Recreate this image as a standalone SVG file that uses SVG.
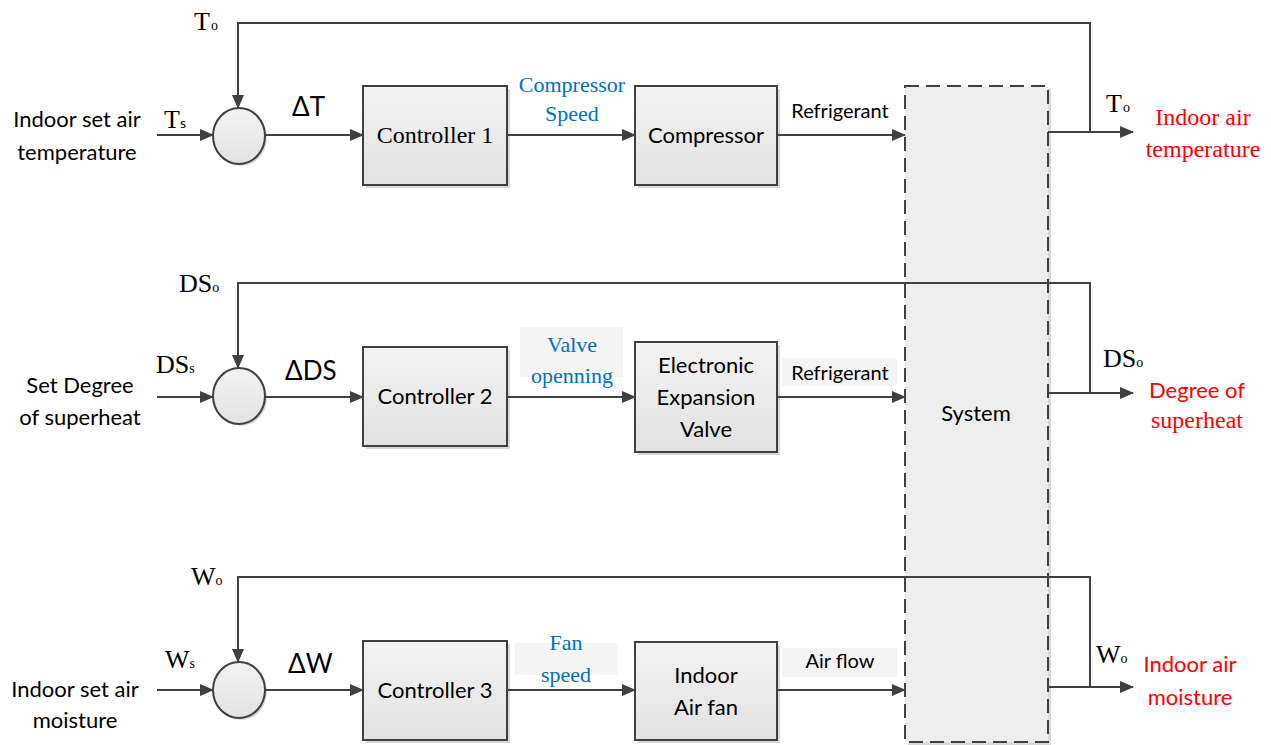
<svg xmlns="http://www.w3.org/2000/svg" width="1271" height="745" viewBox="0 0 1271 745">
<defs>
  <linearGradient id="boxg" x1="0" y1="0" x2="0" y2="1">
    <stop offset="0" stop-color="#f3f3f3"/>
    <stop offset="1" stop-color="#e2e2e2"/>
  </linearGradient>
  <marker id="arr" viewBox="0 0 14 12" refX="13" refY="6" markerWidth="14" markerHeight="12" markerUnits="userSpaceOnUse" orient="auto">
    <path d="M0,0 L14,6 L0,12 Z" fill="#404040"/>
  </marker>
</defs>
<style>
  .box{fill:url(#boxg);stroke:#404040;stroke-width:2}
  .shadow{fill:#d8d8d8}
  .sum{fill:url(#boxg);stroke:#404040;stroke-width:2}
  .ln{fill:none;stroke:#404040;stroke-width:2}
  .ar{fill:none;stroke:#404040;stroke-width:2;marker-end:url(#arr)}
  .sans{font-family:Lato,"Liberation Sans",sans-serif;font-size:22px;fill:#000}
  .serif{font-family:"Liberation Serif","Times New Roman",serif;font-size:24px;fill:#000}
  .sym{font-family:"Liberation Serif","Times New Roman",serif;font-size:26px;fill:#000}
  .delta{font-family:Lato,"Liberation Sans",sans-serif;font-size:26px;fill:#000}
  .lbl{font-family:Lato,"Liberation Sans",sans-serif;font-size:20px;fill:#000}
  .blue{font-family:"Liberation Serif","Times New Roman",serif;font-size:22px;fill:#0070c0}
  .red{fill:#ff0000}
  .sub{font-size:14px}
  .lblbg{fill:#f5f5f5}
</style>
<rect width="1271" height="745" fill="#ffffff"/>

<!-- label backgrounds -->
<rect class="lblbg" x="520" y="327" width="103" height="50"/>
<rect class="lblbg" x="782" y="358" width="115" height="28"/>
<rect class="lblbg" x="515" y="643" width="103" height="32"/>
<rect class="lblbg" x="782" y="648" width="115" height="29"/>

<!-- System -->
<g id="system">
  <rect x="908" y="89" width="143" height="656" fill="#d9d9d9"/>
  <rect x="905" y="86" width="143" height="656" fill="#eeeeee" stroke="#404040" stroke-width="2" stroke-dasharray="14 7"/>
  <text class="sans" x="976" y="421" text-anchor="middle">System</text>
</g>

<!-- Row 1 -->
<g id="sum1">
  <ellipse cx="241" cy="138" rx="26" ry="28" class="shadow"/>
  <ellipse cx="239" cy="136" rx="26" ry="28" class="sum"/>
</g>
<g id="controller1">
  <rect x="366" y="89" width="144" height="99" class="shadow"/>
  <rect x="363" y="86" width="144" height="99" class="box"/>
  <text class="serif" x="435" y="143" text-anchor="middle">Controller 1</text>
</g>
<g id="compressor">
  <rect x="638" y="89" width="142" height="99" class="shadow"/>
  <rect x="635" y="86" width="142" height="99" class="box"/>
  <text class="sans" x="706" y="143" text-anchor="middle">Compressor</text>
</g>

<!-- Row 2 -->
<g id="sum2">
  <ellipse cx="241" cy="398" rx="26" ry="28" class="shadow"/>
  <ellipse cx="239" cy="396" rx="26" ry="28" class="sum"/>
</g>
<g id="controller2">
  <rect x="366" y="350" width="144" height="99" class="shadow"/>
  <rect x="363" y="347" width="144" height="99" class="box"/>
  <text class="sans" x="435" y="404" text-anchor="middle">Controller 2</text>
</g>
<g id="eev">
  <rect x="638" y="345" width="142" height="110" class="shadow"/>
  <rect x="635" y="342" width="142" height="110" class="box"/>
  <text class="sans" x="706" y="373" text-anchor="middle">Electronic</text>
  <text class="sans" x="706" y="405" text-anchor="middle">Expansion</text>
  <text class="sans" x="706" y="437" text-anchor="middle">Valve</text>
</g>

<!-- Row 3 -->
<g id="sum3">
  <ellipse cx="241" cy="692" rx="26" ry="28" class="shadow"/>
  <ellipse cx="239" cy="690" rx="26" ry="28" class="sum"/>
</g>
<g id="controller3">
  <rect x="366" y="644" width="144" height="99" class="shadow"/>
  <rect x="363" y="641" width="144" height="99" class="box"/>
  <text class="sans" x="435" y="698" text-anchor="middle">Controller 3</text>
</g>
<g id="fan">
  <rect x="638" y="645" width="142" height="98" class="shadow"/>
  <rect x="635" y="642" width="142" height="98" class="box"/>
  <text class="sans" x="706" y="683" text-anchor="middle">Indoor</text>
  <text class="sans" x="706" y="715" text-anchor="middle">Air fan</text>
</g>

<!-- Connectors -->
<g id="connectors">
  <!-- row 1 -->
  <line class="ar" x1="157" y1="135" x2="213" y2="135"/>
  <line class="ar" x1="265" y1="135" x2="363" y2="135"/>
  <line class="ar" x1="507" y1="135" x2="635" y2="135"/>
  <line class="ar" x1="777" y1="135" x2="905" y2="135"/>
  <line class="ar" x1="1048" y1="132" x2="1133" y2="132"/>
  <polyline class="ar" points="1090,132 1090,23 238,23 238,108"/>
  <!-- row 2 -->
  <line class="ar" x1="157" y1="397" x2="213" y2="397"/>
  <line class="ar" x1="265" y1="397" x2="363" y2="397"/>
  <line class="ar" x1="507" y1="397" x2="635" y2="397"/>
  <line class="ar" x1="777" y1="397" x2="905" y2="397"/>
  <line class="ar" x1="1048" y1="393" x2="1133" y2="393"/>
  <polyline class="ar" points="1090,393 1090,283 238,283 238,368"/>
  <!-- row 3 -->
  <line class="ar" x1="157" y1="690" x2="213" y2="690"/>
  <line class="ar" x1="265" y1="690" x2="363" y2="690"/>
  <line class="ar" x1="507" y1="690" x2="635" y2="690"/>
  <line class="ar" x1="777" y1="690" x2="905" y2="690"/>
  <line class="ar" x1="1048" y1="687" x2="1133" y2="687"/>
  <polyline class="ar" points="1090,687 1090,577 238,577 238,662"/>
</g>

<!-- Labels row 1 -->
<text class="sans" x="77" y="127" text-anchor="middle">Indoor set air</text>
<text class="sans" x="77" y="160" text-anchor="middle">temperature</text>
<text class="sym" x="164" y="128">T<tspan class="sub" style="font-family:Lato,sans-serif">s</tspan></text>
<text class="sym" x="194" y="30">T<tspan class="sub" dx="1">o</tspan></text>
<text class="delta" x="292" y="116">ΔT</text>
<text class="blue" x="572" y="92" text-anchor="middle">Compressor</text>
<text class="blue" x="572" y="121" text-anchor="middle">Speed</text>
<text class="lbl" x="840" y="118" text-anchor="middle">Refrigerant</text>
<text class="sym" x="1106" y="112">T<tspan class="sub" dx="1">o</tspan></text>
<text class="serif red" x="1203" y="125" text-anchor="middle">Indoor air</text>
<text class="serif red" x="1203" y="157" text-anchor="middle">temperature</text>

<!-- Labels row 2 -->
<text class="sans" x="80" y="393" text-anchor="middle">Set Degree</text>
<text class="sans" x="80" y="425" text-anchor="middle">of superheat</text>
<text class="sym" x="156" y="373">DS<tspan class="sub">s</tspan></text>
<text class="sym" x="179" y="292">DS<tspan class="sub">o</tspan></text>
<text class="delta" x="285" y="380">ΔDS</text>
<text class="blue" x="572" y="352" text-anchor="middle">Valve</text>
<text class="blue" x="572" y="383" text-anchor="middle">openning</text>
<text class="lbl" x="840" y="380" text-anchor="middle">Refrigerant</text>
<text class="sym" x="1103" y="367">DS<tspan class="sub">o</tspan></text>
<text class="sans red" x="1197" y="398" text-anchor="middle">Degree of</text>
<text class="serif red" x="1197" y="428" text-anchor="middle">superheat</text>

<!-- Labels row 3 -->
<text class="sans" x="75" y="697" text-anchor="middle">Indoor set air</text>
<text class="sans" x="75" y="728" text-anchor="middle">moisture</text>
<text class="sym" x="165" y="668">W<tspan class="sub">s</tspan></text>
<text class="sym" x="191" y="585">W<tspan class="sub">o</tspan></text>
<text class="delta" x="288" y="673">ΔW</text>
<text class="blue" x="566" y="650" text-anchor="middle">Fan</text>
<text class="blue" x="566" y="682" text-anchor="middle">speed</text>
<text class="lbl" x="840" y="668" text-anchor="middle">Air flow</text>
<text class="sym" x="1096" y="663">W<tspan class="sub">o</tspan></text>
<text class="sans red" x="1190" y="672" text-anchor="middle">Indoor air</text>
<text class="sans red" x="1190" y="705" text-anchor="middle">moisture</text>
</svg>
